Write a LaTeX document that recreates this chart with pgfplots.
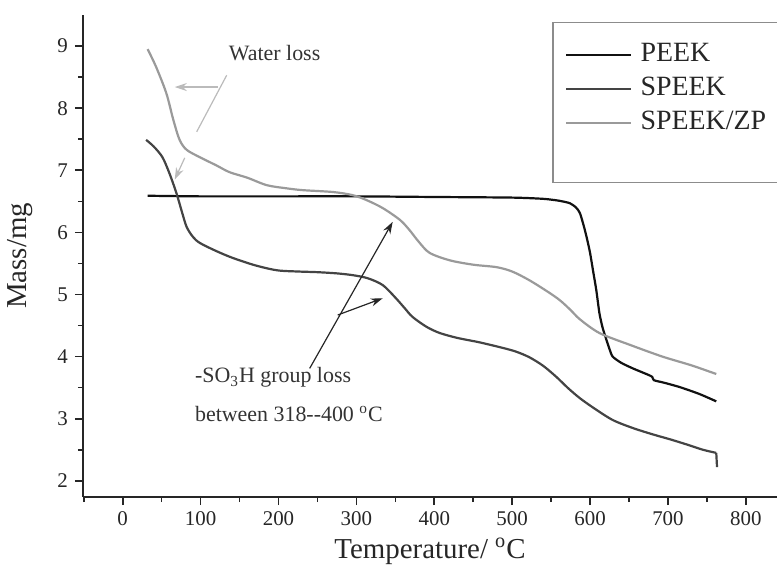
\documentclass[border=0pt]{standalone}
\usepackage{pgfplots}
\pgfplotsset{compat=1.18}
\usepackage{fontspec}
\setmainfont{Liberation Serif}
\usetikzlibrary{arrows.meta}
\definecolor{cpeek}{HTML}{111111}
\definecolor{cspeek}{HTML}{444444}
\definecolor{czp}{HTML}{9A9A9A}
\definecolor{carrow}{HTML}{BBBBBB}
\begin{document}
\begin{tikzpicture}
\begin{axis}[
  at={(0,0)}, anchor=south west,
  scale only axis, width=347bp, height=241bp,
  xmin=-51, xmax=840, ymin=1.74, ymax=9.5,
  axis x line=bottom, axis y line=left,
  axis line style={-, line width=1bp, color=black!85},
  tick style={line width=0.8bp, color=black!85},
  tick align=outside,
  major tick length=4bp, minor tick length=2.5bp,
  xtick={0,100,...,800}, minor xtick={-50,50,150,...,750},
  ytick={2,3,...,9}, minor ytick={2.5,3.5,...,8.5},
  /pgf/number format/assume math mode=true,
  ticklabel style={font=\fontsize{10.5}{12}\selectfont, color=black!85},
  xlabel={Temperature/ \textsuperscript{o}C},
  xlabel style={font=\fontsize{14.5}{16}\selectfont, color=black!85, at={(rel axis cs:0.5,0)}, anchor=base, yshift=-30.5bp},
  clip=false,
  legend style={draw=none, fill=none, inner sep=0pt, at={(rel axis cs:0.6945,0.945)}, anchor=north west,
    font=\fontsize{14}{16}\selectfont, row sep=4bp,
    nodes={inner sep=0pt, text height=10bp, text depth=3bp, text=black!85}},
  legend cell align=left,
  legend image code/.code={\draw[#1] (0bp,0bp) -- (32.5bp,0bp); \path (36.5bp,0bp);},
]
\addplot[cpeek, line width=1.1bp, smooth, tension=0.4, line join=round] coordinates {
(32,6.59) (100,6.58) (200,6.58) (300,6.58) (400,6.57) (500,6.56) (540,6.54)
(560,6.51) (574,6.47) (582,6.40) (587,6.31) (592,6.10) (596,5.90) (600,5.67)
(604,5.37) (608,5.07) (612,4.70) (616,4.47) (621,4.27) (625,4.12) (629,4.00)
(640,3.90) (655,3.81) (676,3.70) (680,3.67) (682,3.62) (695,3.58) (715,3.51)
(740,3.40) (762,3.28)};
\addlegendentry{PEEK}
\addplot[cspeek, line width=1.1bp, smooth, tension=0.5, line join=round] coordinates {
(30,7.49) (40,7.38) (51,7.21) (60,6.95) (69,6.63) (76,6.33) (82,6.09) (90,5.93)
(99,5.83) (120,5.70) (141,5.59) (170,5.47) (198,5.39) (225,5.37) (249,5.36)
(275,5.34) (296,5.31) (315,5.26) (334,5.15) (350,4.95) (362,4.78) (372,4.64)
(390,4.48) (407,4.38) (430,4.30) (458,4.23) (488,4.14) (505,4.08) (522,3.99)
(540,3.85) (557,3.67) (572,3.49) (587,3.33) (605,3.17) (629,2.98) (655,2.85)
(680,2.75) (705,2.66) (728,2.57) (745,2.50) (762,2.45)};
\addlegendentry{SPEEK}
\addplot[czp, line width=1.1bp, smooth, tension=0.5, line join=round] coordinates {
(32,8.95) (43,8.66) (56,8.24) (65,7.81) (73,7.49) (82,7.33) (99,7.21) (120,7.08)
(137,6.97) (160,6.88) (185,6.76) (210,6.71) (231,6.68) (270,6.65) (295,6.60)
(313,6.52) (334,6.39) (356,6.20) (368,6.04) (380,5.85) (394,5.67) (420,5.55)
(450,5.48) (480,5.44) (500,5.37) (522,5.23) (545,5.05) (561,4.91) (575,4.75)
(587,4.60) (612,4.38) (651,4.19) (693,4.00) (730,3.86) (762,3.72)};
\addlegendentry{SPEEK/ZP}
\addplot[cspeek, line width=1.1bp, forget plot] coordinates {(762,2.45) (763,2.22)};
% y label
\node[rotate=90, anchor=center, color=black!85, font=\fontsize{14.5}{16}\selectfont] at (axis description cs:-0.0908,0.5) {Mass/mg};
% legend frame
\draw[black!45, line width=0.7bp] (rel axis cs:0.677,0.985) rectangle (rel axis cs:1.05,0.653);
% water loss annotation
\node[anchor=base, color=black!80, font=\fontsize{11}{13}\selectfont] at (axis cs:195,8.775) {Water loss};
\draw[carrow, line width=0.6bp] (axis cs:133.5,8.53) -- (axis cs:95,7.62);
\draw[carrow, line width=0.6bp, -{Stealth[length=6bp,width=4bp]}] (axis cs:122,8.34) -- (axis cs:66.8,8.34);
\draw[carrow, line width=0.6bp, -{Stealth[length=6bp,width=4bp]}] (axis cs:79.6,7.2) -- (axis cs:66.8,6.85);
% SO3H annotation
\draw[black!85, line width=0.6bp, -{Stealth[length=6bp,width=4bp]}] (axis cs:240,3.81) -- (axis cs:346.6,6.17);
\draw[black!85, line width=0.6bp, -{Stealth[length=6bp,width=4bp]}] (axis cs:276,4.67) -- (axis cs:333.8,4.94);
\node[anchor=base west, inner sep=0pt, color=black!80, font=\fontsize{11}{13}\selectfont] at (axis cs:92.4,3.577) {-SO\textsubscript{3}H group loss};
\node[anchor=base west, inner sep=0pt, color=black!80, font=\fontsize{11}{13}\selectfont] at (axis cs:92.4,2.954) {between 318{-}{-}400 \textsuperscript{o}C};
\end{axis}
\pgfresetboundingbox
\useasboundingbox (-41.5bp,-34bp) rectangle (347bp,248.5bp);
\end{tikzpicture}
\end{document}
